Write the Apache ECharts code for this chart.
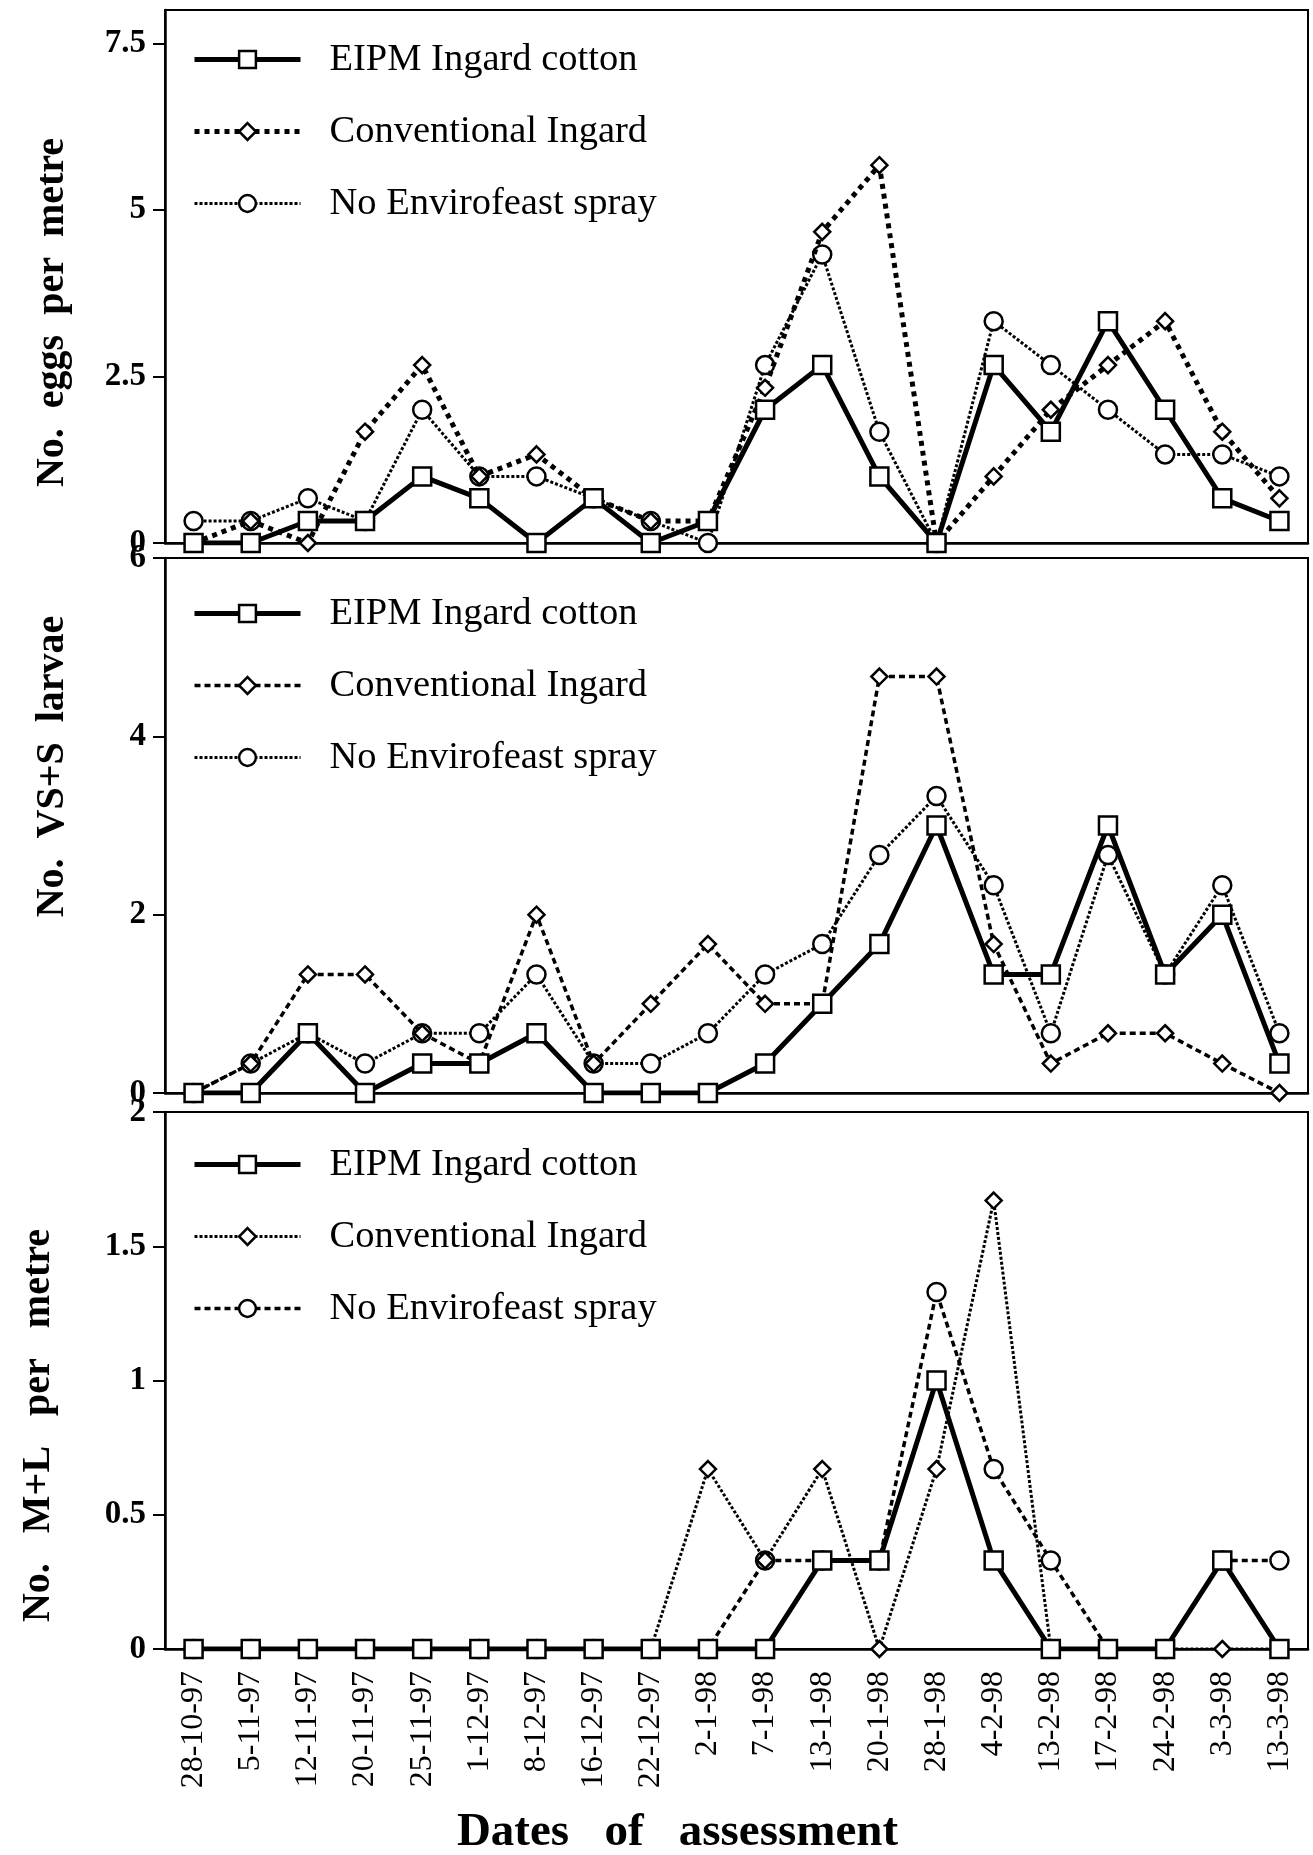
<!DOCTYPE html>
<html>
<head>
<meta charset="utf-8">
<title>Helicoverpa eggs and larvae on Ingard cotton</title>
<script src="https://cdn.jsdelivr.net/npm/echarts@6/dist/echarts.min.js"></script>
<style>
  html, body { margin: 0; padding: 0; background: #fff; }
  #chart { width: 1313px; height: 1855px; }
</style>
</head>
<body>
<div id="chart"></div>
<script>
var dates = ['28-10-97', '5-11-97', '12-11-97', '20-11-97', '25-11-97', '1-12-97', '8-12-97',
  '16-12-97', '22-12-97', '2-1-98', '7-1-98', '13-1-98', '20-1-98', '28-1-98', '4-2-98',
  '13-2-98', '17-2-98', '24-2-98', '3-3-98', '13-3-98']

// No. eggs per metre
var eggsEipm = [0, 0, 0.33, 0.33, 1, 0.67, 0, 0.67, 0, 0.33, 2, 2.67, 1, 0, 2.67, 1.67, 3.33, 2, 0.67, 0.33]
var eggsConv = [0, 0.33, 0, 1.67, 2.67, 1, 1.33, 0.67, 0.33, 0.33, 2.33, 4.67, 5.67, 0, 1, 2, 2.67, 3.33, 1.67, 0.67]
var eggsNoEnv = [0.33, 0.33, 0.67, 0.33, 2, 1, 1, 0.67, 0.33, 0, 2.67, 4.33, 1.67, 0, 3.33, 2.67, 2, 1.33, 1.33, 1]

// No. VS+S larvae
var smallEipm = [0, 0, 0.67, 0, 0.33, 0.33, 0.67, 0, 0, 0, 0.33, 1, 1.67, 3, 1.33, 1.33, 3, 1.33, 2, 0.33]
var smallConv = [0, 0.33, 1.33, 1.33, 0.67, 0.33, 2, 0.33, 1, 1.67, 1, 1, 4.67, 4.67, 1.67, 0.33, 0.67, 0.67, 0.33, 0]
var smallNoEnv = [0, 0.33, 0.67, 0.33, 0.67, 0.67, 1.33, 0.33, 0.33, 0.67, 1.33, 1.67, 2.67, 3.33, 2.33, 0.67, 2.67, 1.33, 2.33, 0.67]

// No. M+L per metre
var bigEipm = [0, 0, 0, 0, 0, 0, 0, 0, 0, 0, 0, 0.33, 0.33, 1, 0.33, 0, 0, 0, 0.33, 0]
var bigConv = [0, 0, 0, 0, 0, 0, 0, 0, 0, 0.67, 0.33, 0.67, 0, 0.67, 1.67, 0, 0, 0, 0, 0]
var bigNoEnv = [0, 0, 0, 0, 0, 0, 0, 0, 0, 0, 0.33, 0.33, 0.33, 1.33, 0.67, 0.33, 0, 0, 0.33, 0.33]

var eggTicks = [0, 2.5, 5, 7.5]
var smallTicks = [0, 2, 4, 6]
var bigTicks = [0, 0.5, 1, 1.5, 2]

var seriesNames = ['EIPM Ingard cotton', 'Conventional Ingard', 'No Envirofeast spray']

var serif = "'Liberation Serif', 'Times New Roman', serif"

// line looks
var solid = { type: 'solid', width: 5 }
var boldDash = { type: [5, 5], width: 5 }
var fineDot = { type: [3, 2], width: 3 }
var dash = { type: [6, 4], width: 3.5 }
var symbols = ['rect', 'diamond', 'circle']
var symbolSizes = [18, 16, 18]

var panels = [
  { data: [eggsEipm, eggsConv, eggsNoEnv], looks: [solid, boldDash, fineDot],
    ticks: eggTicks, max: 8, interval: 2.5, name: 'No.  eggs  per  metre',
    top: 10, height: 533, legendTop: 35, namePad: [0, 72, 0, 0], nameGap: 92 },
  { data: [smallEipm, smallConv, smallNoEnv], looks: [solid, dash, fineDot],
    ticks: smallTicks, max: 6, interval: 2, name: 'No.  VS+S  larvae',
    top: 558, height: 535, legendTop: 589, namePad: [0, 0, 0, 118], nameGap: 92 },
  { data: [bigEipm, bigConv, bigNoEnv], looks: [solid, fineDot, dash],
    ticks: bigTicks, max: 2, interval: 0.5, name: 'No.   M+L   per   metre',
    top: 1112, height: 537, legendTop: 1140, namePad: [0, 90, 0, 0], nameGap: 106 }
]

var grids = []
var xAxes = []
var yAxes = []
var legends = []
var series = []

panels.forEach(function (p, i) {
  var last = i === panels.length - 1
  grids.push({
    left: 165, width: 1143, top: p.top, height: p.height,
    show: true, borderColor: '#000', borderWidth: 2,
    containLabel: false, outerBoundsMode: 'none'
  })
  xAxes.push({
    type: 'category', gridIndex: i, data: dates, boundaryGap: true,
    axisLine: { lineStyle: { color: '#000', width: 2.5 } },
    axisTick: { alignWithLabel: true, length: 9, lineStyle: { color: '#000', width: 2 } },
    axisLabel: {
      show: last, rotate: 90, interval: 0, margin: 22,
      color: '#000', fontFamily: serif, fontSize: 32
    },
    name: last ? 'Dates   of   assessment' : '',
    nameLocation: 'middle', nameGap: 160, nameMoveOverlap: false,
    nameTextStyle: { color: '#000', fontFamily: serif, fontSize: 47, fontWeight: 'bold', padding: [0, 118, 0, 0] }
  })
  yAxes.push({
    type: 'value', gridIndex: i, min: 0, max: p.max, interval: p.interval,
    splitLine: { show: false },
    axisLine: { show: true, lineStyle: { color: '#000', width: 2.5 } },
    axisTick: { show: true, length: 12, customValues: p.ticks, lineStyle: { color: '#000', width: 2 } },
    axisLabel: {
      margin: 19, customValues: p.ticks,
      color: '#000', fontFamily: serif, fontSize: 33, fontWeight: 'bold'
    },
    name: p.name, nameLocation: 'middle', nameGap: p.nameGap, nameMoveOverlap: false,
    nameTextStyle: { color: '#000', fontFamily: serif, fontSize: 40, fontWeight: 'bold', padding: p.namePad }
  })
  legends.push({
    left: 187, top: p.legendTop, orient: 'vertical',
    itemWidth: 106, itemHeight: 21, itemGap: 33,
    textStyle: { color: '#000', fontFamily: serif, fontSize: 38.5, padding: [0, 0, 0, 24] },
    data: seriesNames.map(function (n, k) {
      return {
        name: n,
        lineStyle: { color: '#000', type: p.looks[k].type, width: p.looks[k].width },
        itemStyle: { color: '#fff', borderColor: '#000', borderWidth: 2.5 }
      }
    })
  })
  seriesNames.forEach(function (n, k) {
    series.push({
      name: n, type: 'line', xAxisIndex: i, yAxisIndex: i,
      data: p.data[k],
      symbol: symbols[k], symbolSize: symbolSizes[k], showAllSymbol: true,
      z: 5 - k,
      lineStyle: { color: '#000', type: p.looks[k].type, width: p.looks[k].width },
      itemStyle: { color: '#fff', borderColor: '#000', borderWidth: 2.5 },
      emphasis: { disabled: true }
    })
  })
})

var chart = echarts.init(document.getElementById('chart'))
chart.setOption({
  animation: false,
  backgroundColor: '#fff',
  grid: grids,
  xAxis: xAxes,
  yAxis: yAxes,
  legend: legends,
  series: series
})
</script>
</body>
</html>
